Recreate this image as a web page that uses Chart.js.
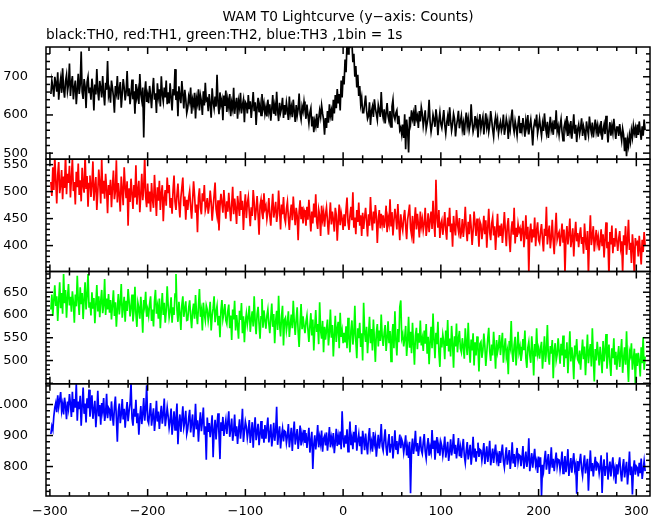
<!DOCTYPE html>
<html>
<head>
<meta charset="utf-8">
<script src="https://cdn.jsdelivr.net/npm/chart.js@4.4.1/dist/chart.umd.min.js"></script>
<style>
  html, body { margin: 0; padding: 0; background: #fff; }
  #wrap { position: relative; width: 661px; height: 515px; }
  #chart { position: absolute; left: 0; top: 0; }
  .ttl { position: absolute; font-family: "DejaVu Sans", sans-serif; font-size: 13.7px; line-height: 14px; color: #000; white-space: nowrap; }
  #title { left: 46px; width: 604px; top: 9px; text-align: center; }
  #subtitle { left: 46px; top: 26.5px; }
</style>
</head>
<body>
<div id="wrap">
  <canvas id="chart" width="661" height="515"></canvas>
  <div class="ttl" id="title">WAM T0 Lightcurve (y−axis: Counts)</div>
  <div class="ttl" id="subtitle">black:TH0, red:TH1, green:TH2, blue:TH3 ,1bin = 1s</div>
</div>
<script>
'use strict';

// time of the first bin (s), 1 bin = 1 s
const firstBin = -299;

// counts per bin, 20 bins per row
const th0 = [
  655,690,672,648,700,683,661,712,640,676,695,658,722,668,645,689,705,662,680,735,
  650,684,702,641,671,690,628,667,708,655,680,766,660,642,694,675,618,686,700,659,
  672,640,695,668,612,680,654,720,662,638,689,670,646,702,657,625,684,666,741,650,
  664,632,690,671,648,606,676,659,702,640,667,686,619,655,694,672,638,660,715,649,
  670,628,655,693,641,662,603,681,647,664,629,707,655,638,672,541,660,688,634,653,
  631,676,652,618,664,697,640,657,605,683,648,667,622,701,654,635,672,646,690,628,
  659,630,683,646,612,668,651,720,639,662,597,675,648,631,689,655,617,666,642,605,
  618,648,635,672,603,640,626,658,591,644,630,667,612,651,636,600,662,625,684,638,
  642,610,655,628,593,670,634,617,648,622,705,631,602,659,627,640,586,651,624,664,
  608,640,621,655,597,632,616,671,603,628,645,590,636,619,658,604,626,640,581,634,
  629,604,652,615,636,592,624,660,610,633,574,621,645,607,628,599,655,616,631,603,
  620,596,640,609,628,585,615,652,603,624,598,661,612,584,632,606,618,645,592,626,
  601,632,612,587,648,605,621,594,640,610,582,626,598,615,656,603,588,622,609,635,
  612,590,627,601,578,606,618,570,596,555,584,571,603,566,590,612,595,625,604,588,
  548,592,566,610,580,628,598,612,585,640,604,652,618,668,630,655,612,690,646,702,
  680,745,712,790,760,830,775,805,790,738,760,700,728,672,705,650,676,628,645,606,
  606,628,651,612,590,598,633,574,610,622,595,641,618,603,587,626,612,595,660,608,
  592,615,578,604,631,596,583,610,569,622,640,597,588,605,612,576,598,560,567,548,
  575,540,602,510,588,560,502,595,578,612,590,604,571,626,589,598,566,610,583,620,
  604,571,590,612,563,578,595,640,582,556,574,601,588,569,615,593,547,584,606,577,
  566,589,613,574,552,580,597,571,620,585,559,576,603,590,544,572,588,611,565,583,
  598,562,579,547,584,606,571,590,560,575,628,582,556,569,597,573,588,541,579,602,
  563,581,595,549,577,604,568,585,556,574,610,587,562,543,579,596,571,588,552,570,
  582,559,571,601,548,566,590,575,537,580,562,593,614,571,555,584,568,546,576,598,
  554,579,561,592,570,543,585,567,600,549,572,588,559,520,566,583,575,601,552,569,
  590,565,546,577,558,604,571,553,582,540,567,595,561,574,548,586,563,612,557,571,
  548,572,589,556,533,567,580,562,597,545,571,555,584,538,566,602,551,574,529,563,
  575,550,566,591,545,570,557,534,583,562,547,596,568,553,580,541,565,588,556,572,
  543,569,557,584,535,561,575,550,598,566,528,559,581,546,571,553,590,562,537,568,
  568,545,576,552,533,564,548,505,541,492,536,519,548,530,560,541,572,552,566,540,
  575,548,583,556,535,570,546,588,560
];
const th1 = [
  518,492,545,503,566,520,478,531,555,497,512,540,486,528,507,570,495,533,516,548,
  489,525,562,501,518,476,537,508,552,494,521,482,544,511,498,568,505,529,472,515,
  530,490,512,556,483,508,527,466,500,541,515,478,562,496,520,487,533,505,460,512,
  494,522,471,508,539,486,501,558,480,516,495,463,528,502,475,545,509,488,519,437,
  506,481,524,497,468,512,489,549,476,503,520,462,495,533,484,507,565,490,471,515,
  478,500,463,516,485,470,531,492,455,508,483,520,466,497,512,445,488,503,474,526,
  497,512,470,488,459,503,530,481,466,494,515,478,452,489,507,526,473,491,448,485,
  466,489,501,472,450,484,519,493,461,476,425,488,506,470,458,497,482,512,465,474,
  488,459,475,502,481,446,470,493,517,468,455,484,428,472,496,479,461,503,476,450,
  482,463,498,471,445,476,509,458,487,469,440,492,474,455,501,466,483,429,471,495,
  451,478,490,462,436,471,455,503,480,447,466,492,458,420,474,485,461,449,497,468,
  474,449,463,488,455,437,470,496,452,465,481,444,459,502,467,430,476,458,490,452,
  443,468,481,452,429,460,476,447,491,462,438,470,455,410,463,484,449,472,441,466,
  460,437,472,448,485,455,426,463,441,478,452,495,444,431,467,456,418,474,449,462,
  435,458,471,446,420,452,480,439,463,448,426,470,457,409,445,476,438,461,450,429,
  458,436,467,489,443,429,455,472,447,499,433,452,421,466,444,480,437,456,418,461,
  431,452,470,445,417,458,437,490,449,428,463,441,475,455,405,447,466,432,459,440,
  456,433,448,474,425,451,440,486,437,462,419,446,468,452,430,477,443,410,458,438,
  428,452,466,437,412,448,461,476,432,420,455,404,445,471,430,459,440,415,463,436,
  449,428,441,470,418,436,460,425,447,463,431,483,442,416,522,452,433,466,414,440,
  447,420,438,462,429,411,452,436,470,425,441,398,455,432,419,466,440,427,451,413,
  425,449,416,437,472,430,408,444,421,458,435,401,427,463,440,418,450,432,398,445,
  439,412,430,455,421,447,396,433,468,424,410,441,452,419,436,392,428,459,415,437,
  418,441,405,430,462,427,399,436,451,413,388,429,445,420,470,404,433,416,440,426,
  432,408,427,446,397,419,456,412,435,350,424,441,406,430,415,452,399,428,443,410,
  405,426,440,413,389,431,418,472,402,423,437,395,414,448,409,384,427,461,411,420,
  425,399,418,441,407,430,348,415,436,402,421,450,397,412,432,380,419,444,408,423,
  397,420,434,403,416,385,441,410,392,427,345,414,456,401,418,436,389,411,429,404,
  416,391,408,430,399,421,378,412,443,395,407,343,425,402,437,386,414,398,432,410,
  390,413,427,396,408,350,419,401,436,383,410,448,392,405,368,421,398,340,414,403,
  406,380,418,392,365,411,388,425,400
];
const th2 = [
  612,645,598,633,665,620,641,587,630,672,615,648,603,690,626,655,594,638,668,621,
  640,607,652,628,583,645,619,686,632,600,661,624,648,591,635,672,612,643,690,618,
  628,599,650,614,637,582,624,666,608,641,595,630,655,604,621,679,600,636,612,646,
  605,633,590,622,654,598,628,574,613,646,601,626,668,594,617,640,585,631,609,657,
  631,597,618,645,586,609,662,603,574,627,615,592,640,608,561,633,619,651,596,612,
  598,624,641,587,612,575,630,655,603,619,592,636,571,614,648,600,627,583,609,663,
  621,594,608,639,583,617,600,646,690,611,585,629,604,567,622,641,596,613,630,588,
  589,615,632,598,571,608,625,592,644,603,580,619,657,596,610,566,627,602,588,621,
  612,587,603,629,566,598,615,641,584,607,620,579,598,551,610,633,591,605,624,588,
  580,608,623,571,599,545,612,590,631,566,600,577,548,609,589,626,560,597,540,584,
  603,579,596,620,563,590,608,575,641,587,558,602,618,581,548,596,635,572,610,589,
  570,598,612,581,560,593,625,574,602,538,586,609,567,642,580,553,597,620,533,589,
  594,566,583,608,552,579,601,571,631,585,556,590,617,563,530,582,624,569,597,575,
  560,585,599,568,541,576,604,555,590,522,572,611,563,580,536,628,566,548,587,518,
  574,546,568,590,533,561,612,550,578,509,556,598,541,570,585,527,605,552,566,538,
  561,540,575,527,594,550,518,566,588,535,557,620,544,505,571,549,583,530,560,500,
  627,563,541,574,516,555,596,538,569,522,590,547,497,561,580,531,566,543,601,552,
  532,560,578,521,549,586,538,565,498,553,580,527,608,544,511,569,540,618,632,549,
  558,531,549,576,510,544,596,528,563,516,583,537,491,555,572,525,560,539,588,533,
  548,521,566,537,580,515,552,492,541,574,527,603,546,505,561,536,585,519,486,550,
  529,557,541,503,566,532,589,520,548,509,576,538,484,553,531,581,518,547,565,526,
  518,549,530,504,571,536,512,583,527,495,546,522,560,489,540,511,553,528,476,537,
  541,506,522,559,533,488,517,548,572,520,499,535,511,563,527,482,545,518,530,556,
  512,538,561,495,527,549,508,521,470,543,530,587,516,497,534,552,489,526,563,518,
  530,499,516,547,523,566,505,484,528,541,512,495,553,520,467,536,509,571,514,526,
  504,527,541,482,516,553,497,520,578,509,491,532,515,545,461,522,538,500,513,549,
  520,493,537,511,555,486,524,505,540,472,516,564,498,529,508,459,533,517,547,502,
  497,522,480,515,546,503,531,468,512,557,494,519,536,487,571,509,454,525,500,541,
  516,489,530,507,472,543,498,521,558,482,511,535,495,466,527,505,549,491,519,480,
  508,532,486,515,547,473,504,529,491,564,497,453,520,511,538,480,502,526,447,516,
  488,517,500,465,529,494,551,480,509
];
const th3 = [
  905,930,918,962,990,1005,975,1030,992,1015,1040,980,1001,968,1022,995,953,1010,987,1034,
  1002,960,1041,975,1018,990,1066,948,1010,985,1028,932,996,1055,970,1003,942,1020,988,1048,
  961,995,1030,954,983,1012,927,976,1044,962,998,935,1005,980,1021,947,970,1035,956,990,
  984,948,1010,965,932,991,1026,957,880,978,1003,940,969,1018,952,986,925,974,1008,946,
  978,1003,1070,955,932,986,961,1015,940,972,903,958,995,937,969,1021,948,983,1062,950,
  940,973,1005,932,961,988,915,954,1012,945,977,921,963,996,938,970,1019,930,958,990,
  962,925,948,987,903,941,978,918,955,1003,872,939,968,912,951,994,926,944,980,905,
  921,956,983,910,942,968,895,931,1002,920,949,880,937,975,914,946,990,903,930,822,
  958,912,940,895,926,965,830,918,951,887,935,972,905,824,943,915,960,899,928,950,
  905,942,978,896,921,955,883,912,968,898,930,873,917,952,890,926,986,879,913,945,
  928,892,915,950,876,908,943,861,922,959,885,911,938,869,905,947,890,920,877,934,
  890,925,958,878,902,936,865,897,941,883,912,993,870,904,930,858,899,922,881,915,
  912,876,899,937,862,893,925,850,906,945,871,896,921,857,889,932,868,905,885,918,
  876,908,860,892,925,845,883,912,792,870,901,855,888,934,862,895,873,916,848,890,
  899,868,910,851,885,927,862,894,875,908,843,880,922,866,897,871,913,856,978,890,
  862,901,874,920,848,886,945,869,893,856,912,878,934,851,884,905,866,897,840,915,
  888,853,906,870,839,895,924,862,880,848,911,874,893,832,869,902,858,884,937,866,
  851,889,920,862,835,878,905,845,871,898,826,866,917,854,882,840,873,903,859,887,
  876,845,871,901,836,862,828,880,714,855,890,841,868,915,849,876,834,863,897,852,
  841,878,905,849,826,867,892,835,862,845,918,857,884,822,861,895,843,870,835,880,
  866,835,861,897,829,853,880,818,847,888,836,862,905,841,870,826,857,892,833,861,
  828,862,889,835,812,851,879,823,846,870,806,840,896,829,858,816,847,877,831,855,
  852,819,844,876,808,838,865,815,841,883,804,832,858,812,845,871,821,836,801,850,
  812,845,871,818,797,834,862,806,829,853,792,824,878,810,840,799,831,860,815,838,
  835,801,826,866,793,820,848,799,823,891,785,815,843,796,829,857,804,818,779,832,
  798,830,705,806,785,822,851,790,815,840,776,808,862,796,825,785,817,845,800,823,
  821,789,812,848,778,806,834,782,809,856,770,801,827,780,814,843,791,806,712,818,
  786,817,841,792,770,809,836,778,802,825,722,795,852,785,811,768,803,831,787,812,
  808,778,801,836,715,796,823,770,799,845,758,790,816,768,802,830,775,793,745,807,
  775,806,830,781,752,798,824,765,792,815,742,785,848,772,800,710,793,820,774,801,
  796,768,812,779,826,760,790,818,785
];

const series = [th0, th1, th2, th3];
const colours = ['#000000', '#ff0000', '#00ff00', '#0000ff'];

// axes
const xRange = [-304, 314];
const xTicks = [-300, -200, -100, 0, 100, 200, 300];
const yRanges = [[484, 778], [352, 560], [449, 695.5], [705, 1067]];
const yTicks = [[500, 600, 700], [400, 450, 500, 550], [500, 550, 600, 650], [800, 900, 1000]];
const yMajorStep = [100, 50, 50, 100];
const yMinorStep = [20, 10, 10, 20];
const xMajorStep = 100;
const xMinorStep = 20;

const tickFont = { family: 'DejaVu Sans', size: 13 };
const minus = v => String(v).replace('-', '\u2212');

const scales = {
  x: {
    type: 'linear',
    min: xRange[0],
    max: xRange[1],
    grid: { display: false },
    border: { display: false },
    afterBuildTicks: s => { s.ticks = xTicks.map(v => ({ value: v })); },
    afterFit: s => { s.height = 19; },
    ticks: { autoSkip: false, maxRotation: 0, padding: 0, color: '#000', font: tickFont, callback: v => minus(v) }
  }
};
// stacked panels: a later axis is placed higher, so start with the bottom one
for (let i = 3; i >= 0; i--) {
  scales['y' + i] = {
    type: 'linear',
    position: 'left',
    stack: 'panels',
    stackWeight: 1,
    min: yRanges[i][0],
    max: yRanges[i][1],
    grid: { display: false },
    border: { display: false },
    afterBuildTicks: s => { s.ticks = yTicks[i].map(v => ({ value: v })); },
    afterFit: s => { s.width = 46; },
    ticks: { autoSkip: false, padding: 10, color: '#000', font: tickFont, callback: v => minus(v) }
  };
}

const datasets = series.map((vals, i) => ({
  data: vals.map((v, k) => ({ x: firstBin + k, y: v })),
  yAxisID: 'y' + i,
  borderColor: colours[i],
  borderWidth: 1.7,
  pointRadius: 0,
  fill: false,
  tension: 0
}));

// keep every curve inside its own panel
const panelClip = {
  id: 'panelClip',
  beforeDatasetDraw(chart, args) {
    const ys = chart.scales[args.meta.yAxisID];
    const a = chart.chartArea;
    const c = chart.ctx;
    c.save();
    c.beginPath();
    c.rect(a.left, ys.top, a.right - a.left, ys.bottom - ys.top);
    c.clip();
  },
  afterDatasetDraw(chart) {
    chart.ctx.restore();
  }
};

// panel boxes with inward ticks on all four sides
const frames = {
  id: 'frames',
  afterDraw(chart) {
    const c = chart.ctx;
    const a = chart.chartArea;
    const xs = chart.scales.x;
    const seg = (x1, y1, x2, y2) => { c.beginPath(); c.moveTo(x1, y1); c.lineTo(x2, y2); c.stroke(); };
    c.save();
    c.strokeStyle = '#000';
    c.lineWidth = 1.5;
    for (let i = 0; i < 4; i++) {
      const ys = chart.scales['y' + i];
      const top = ys.top, bot = ys.bottom;
      c.strokeRect(a.left, top, a.right - a.left, bot - top);
      const [lo, hi] = yRanges[i];
      for (let v = Math.ceil(lo / yMinorStep[i]) * yMinorStep[i]; v <= hi; v += yMinorStep[i]) {
        const len = v % yMajorStep[i] === 0 ? 7 : 4;
        const py = ys.getPixelForValue(v);
        seg(a.left, py, a.left + len, py);
        seg(a.right, py, a.right - len, py);
      }
      for (let v = Math.ceil(xRange[0] / xMinorStep) * xMinorStep; v <= xRange[1]; v += xMinorStep) {
        const len = v % xMajorStep === 0 ? 7 : 4;
        const px = xs.getPixelForValue(v);
        seg(px, top, px, top + len);
        seg(px, bot, px, bot - len);
      }
    }
    c.restore();
  }
};

new Chart(document.getElementById('chart'), {
  type: 'line',
  data: { datasets },
  options: {
    responsive: false,
    animation: false,
    devicePixelRatio: 1,
    events: [],
    layout: { padding: { top: 47, right: 11, bottom: 0, left: 0 } },
    scales,
    plugins: {
      legend: { display: false },
      tooltip: { enabled: false },
      title: { display: false }
    }
  },
  plugins: [panelClip, frames]
});
</script>
</body>
</html>
